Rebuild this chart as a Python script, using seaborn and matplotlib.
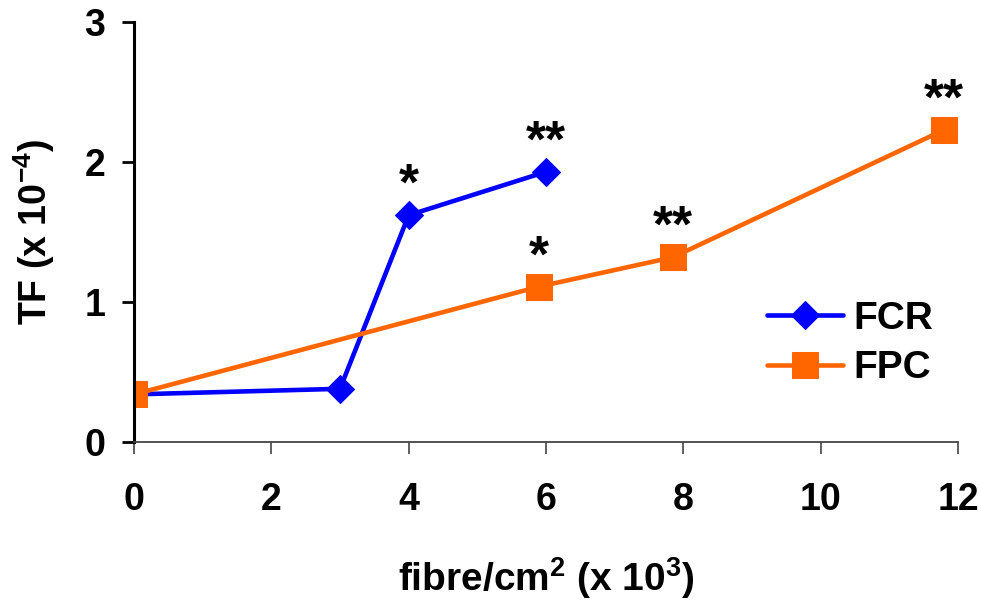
import matplotlib
matplotlib.use("Agg")
import matplotlib.pyplot as plt
import seaborn as sns
import pandas as pd

# data
fcr_x = [0, 3, 4, 6]
fcr_y = [0.34, 0.38, 1.62, 1.93]
fpc_x = [0, 5.9, 7.85, 11.8]
fpc_y = [0.34, 1.11, 1.32, 2.23]
stars_x = [4, 6, 5.9, 7.85, 11.8]
stars_y = [1.62, 1.93, 1.11, 1.32, 2.23]
stars_txt = ["*", "**", "*", "**", "**"]
x_ticks = [0, 2, 4, 6, 8, 10, 12]
y_ticks = [0, 1, 2, 3]

sns.set_style("white")
plt.rcParams['font.family'] = ['Liberation Sans', 'DejaVu Sans']
plt.rcParams['font.weight'] = 'bold'
plt.rcParams['mathtext.fontset'] = 'custom'
plt.rcParams['mathtext.rm'] = 'Liberation Sans:bold'
plt.rcParams['mathtext.it'] = 'Liberation Sans:bold'
plt.rcParams['mathtext.bf'] = 'Liberation Sans:bold'
plt.rcParams['text.color'] = 'black'
plt.rcParams['axes.labelcolor'] = 'black'
plt.rcParams['xtick.color'] = 'black'
plt.rcParams['ytick.color'] = 'black'

fig = plt.figure(figsize=(9.81, 6.05), dpi=100)
ax = fig.add_axes([134/981, 1-442/605, (958-134)/981, (442-22)/605])

df_fcr = pd.DataFrame({"x": fcr_x, "y": fcr_y})
df_fpc = pd.DataFrame({"x": fpc_x, "y": fpc_y})
sns.lineplot(data=df_fcr, x="x", y="y", ax=ax, color="#0000FF", marker="D",
             markersize=14, linewidth=3.3, markeredgecolor="#0000FF", label="FCR")
sns.lineplot(data=df_fpc, x="x", y="y", ax=ax, color="#FF6600", marker="s",
             markersize=19, linewidth=3.3, markeredgecolor="#FF6600", label="FPC")

for sx, sy, t in zip(stars_x, stars_y, stars_txt):
    ax.annotate(t, (sx, sy), xytext=(0, 11), textcoords="offset points",
                ha="center", va="baseline", fontsize=37, fontweight="bold",
                color="black")

ax.set_xlim(0, 12)
ax.set_ylim(0, 3)
ax.set_xticks(x_ticks)
ax.set_yticks(y_ticks)
ax.set_xticklabels([str(v) for v in x_ticks], fontsize=27, fontweight="bold")
ax.set_yticklabels([str(v) for v in y_ticks], fontsize=27, fontweight="bold")
ax.tick_params(axis="x", direction="out", length=8.6, width=1.2, color="#444444", pad=20, bottom=True)
ax.tick_params(axis="y", direction="out", length=8.6, width=2, color="black", pad=12, left=True)

for s in ["top", "right"]:
    ax.spines[s].set_visible(False)
ax.spines["left"].set_linewidth(2.2)
ax.spines["left"].set_color("black")
ax.spines["bottom"].set_linewidth(1.3)
ax.spines["bottom"].set_color("#444444")
ax.set_xlabel(r"fibre/cm$^{2}$ (x 10$^{3}$)", fontsize=28, fontweight="bold", labelpad=27)
ax.set_ylabel(r"TF (x 10$^{-4}$)", fontsize=27, fontweight="bold", labelpad=20)

leg = ax.legend(loc="center left", bbox_to_anchor=(0.768, 0.2345), frameon=False,
                fontsize=28, handlelength=1.95, labelspacing=0.35, handletextpad=0.28,
                borderpad=0, borderaxespad=0)
for t in leg.get_texts():
    t.set_fontweight("bold")

fig.savefig("out.png", dpi=100)
